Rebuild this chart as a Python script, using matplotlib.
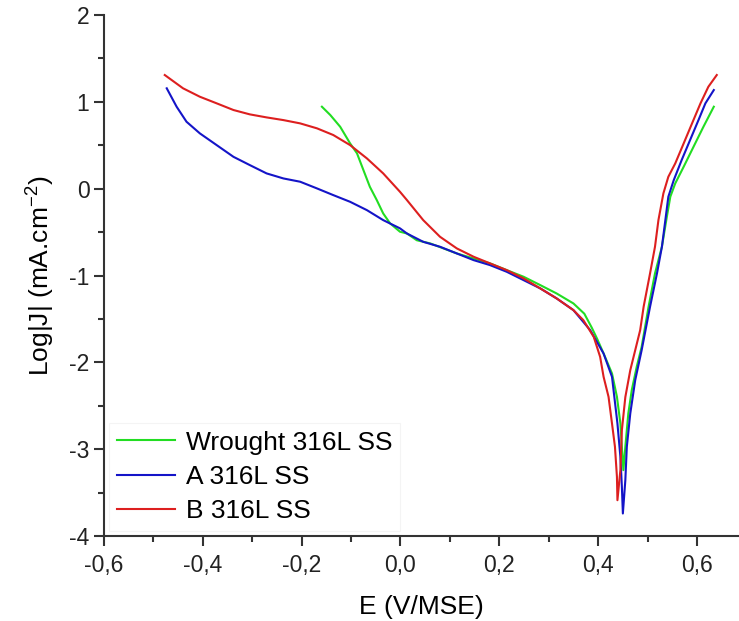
import numpy as np
import matplotlib
matplotlib.use("Agg")
from matplotlib import pyplot as plt
from matplotlib.ticker import MultipleLocator, FuncFormatter

plt.rcParams['font.family'] = ['Liberation Sans', 'DejaVu Sans']
plt.rcParams['axes.unicode_minus'] = False
plt.rcParams['mathtext.default'] = 'regular'

# Wrought 316L SS  (E in V/MSE, log|J|)
e_wrought = [-0.159, -0.142, -0.122, -0.102, -0.088, -0.075, -0.062, -0.048, -0.035, -0.021,
             -0.001, 0.013, 0.033, 0.060, 0.114, 0.181, 0.215, 0.249, 0.283, 0.316,
             0.350, 0.372, 0.387, 0.398, 0.411, 0.428, 0.438, 0.445, 0.448, 0.451,
             0.455, 0.461, 0.468, 0.478, 0.488, 0.502, 0.515, 0.529, 0.539, 0.546,
             0.556, 0.573, 0.593, 0.613, 0.634]
j_wrought = [0.944, 0.848, 0.713, 0.522, 0.407, 0.214, 0.022, -0.131, -0.285, -0.400,
             -0.496, -0.516, -0.594, -0.630, -0.746, -0.860, -0.938, -1.014, -1.111, -1.207,
             -1.322, -1.440, -1.600, -1.730, -1.898, -2.128, -2.397, -2.704, -2.973, -3.242,
             -2.973, -2.589, -2.320, -2.052, -1.822, -1.360, -0.976, -0.669, -0.324, -0.093,
             0.061, 0.252, 0.483, 0.713, 0.944]

# A 316L SS
e_a = [-0.473, -0.453, -0.433, -0.406, -0.372, -0.338, -0.305, -0.271, -0.237, -0.203,
       -0.169, -0.136, -0.102, -0.068, -0.035, -0.001, 0.013, 0.046, 0.080, 0.114,
       0.148, 0.181, 0.215, 0.249, 0.283, 0.316, 0.350, 0.384, 0.411, 0.428,
       0.439, 0.445, 0.448, 0.450,
       0.455, 0.458, 0.465, 0.475, 0.488, 0.505, 0.519, 0.529, 0.536, 0.542,
       0.553, 0.569, 0.586, 0.603, 0.617, 0.634]
j_a = [1.156, 0.944, 0.771, 0.637, 0.502, 0.367, 0.272, 0.176, 0.118, 0.080,
       0.003, -0.074, -0.151, -0.247, -0.362, -0.457, -0.516, -0.612, -0.669, -0.746,
       -0.823, -0.880, -0.957, -1.053, -1.149, -1.264, -1.399, -1.630, -1.899, -2.167,
       -2.704, -3.089, -3.434, -3.741,
       -3.357, -2.973, -2.589, -2.205, -1.860, -1.360, -0.976, -0.669, -0.361, -0.093,
       0.099, 0.330, 0.560, 0.790, 0.983, 1.136]

# B 316L SS
e_b = [-0.477, -0.440, -0.406, -0.372, -0.338, -0.305, -0.271, -0.237, -0.203, -0.169,
       -0.136, -0.102, -0.068, -0.035, -0.001, 0.013, 0.046, 0.080, 0.114, 0.148,
       0.181, 0.215, 0.249, 0.283, 0.316, 0.350, 0.370, 0.391, 0.404, 0.411,
       0.421, 0.428, 0.434, 0.438, 0.439,
       0.445, 0.448, 0.455, 0.465, 0.475, 0.485, 0.492, 0.505, 0.515, 0.522,
       0.532, 0.542, 0.556, 0.573, 0.590, 0.607, 0.623, 0.640]
j_b = [1.309, 1.156, 1.059, 0.983, 0.906, 0.856, 0.821, 0.790, 0.752, 0.695,
       0.618, 0.502, 0.349, 0.176, -0.036, -0.131, -0.362, -0.554, -0.688, -0.784,
       -0.860, -0.938, -1.033, -1.149, -1.264, -1.399, -1.514, -1.706, -1.937, -2.167,
       -2.397, -2.704, -2.973, -3.319, -3.588,
       -3.240, -2.780, -2.400, -2.090, -1.860, -1.630, -1.360, -0.976, -0.669, -0.361,
       -0.054, 0.137, 0.291, 0.521, 0.752, 0.982, 1.174, 1.309]

fig = plt.figure(figsize=(7.39, 6.21), dpi=100)
ax = fig.add_axes([0.1407, 0.1369, 0.8593, 0.8389])

ax.plot(e_wrought, j_wrought, color='#22dd22', lw=1.5, label='Wrought 316L SS')
ax.plot(e_a, j_a, color='#1414c8', lw=1.5, label='A 316L SS')
ax.plot(e_b, j_b, color='#dd1f1f', lw=1.5, label='B 316L SS')

ax.set_xlim(-0.6, 0.685)
ax.set_ylim(-4, 2)
ax.spines['top'].set_visible(False)
ax.spines['right'].set_visible(False)
for s in ('left', 'bottom'):
    ax.spines[s].set_linewidth(1.5)
    ax.spines[s].set_color('#333333')

ax.xaxis.set_major_locator(MultipleLocator(0.2))
ax.xaxis.set_minor_locator(MultipleLocator(0.1))
ax.yaxis.set_major_locator(MultipleLocator(1))
ax.yaxis.set_minor_locator(MultipleLocator(0.5))
ax.xaxis.set_major_formatter(FuncFormatter(lambda v, p: ('%.1f' % v).replace('.', ',').replace('-0,0', '0,0')))
ax.yaxis.set_major_formatter(FuncFormatter(lambda v, p: '%d' % round(v)))
ax.tick_params(which='major', direction='out', length=7, width=1.5, labelsize=16.5,
               color='#333333', labelcolor='#222222')
ax.tick_params(axis='x', which='major', pad=6)
ax.tick_params(which='minor', direction='out', length=4, width=1.5, color='#333333')

ax.set_xlabel('E (V/MSE)', fontsize=19, labelpad=13)
ax.set_ylabel('Log|J| (mA.cm$^{-2}$)', fontsize=19, labelpad=9)

leg = ax.legend(loc='lower left', fontsize=19, frameon=True, handlelength=2.2,
                handletextpad=0.4, labelspacing=0.38, borderaxespad=0.2,
                fancybox=False, borderpad=0.3)
leg.get_frame().set_edgecolor('#f2f2f2')
leg.get_frame().set_linewidth(0.8)

fig.savefig('out.png', dpi=100)
